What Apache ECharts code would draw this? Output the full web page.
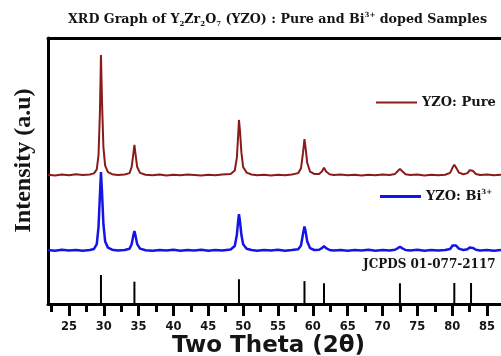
<!DOCTYPE html>
<html>
<head>
<meta charset="utf-8">
<script src="https://cdn.jsdelivr.net/npm/echarts@6/dist/echarts.min.js"></script>
<style>
  html, body { margin: 0; padding: 0; background: #fff; }
  #chart { width: 501px; height: 356px; }
</style>
</head>
<body>
<div id="chart"></div>
<script>
// series names
const seriesNames = ["YZO: Pure", "YZO: Bi3+"];

// 2theta, intensity (a.u., offset for stacking)
const pureData = [
  [22.0, 48.6], [23.0, 48.3], [24.0, 48.7], [25.0, 48.4], [26.0, 48.8], [27.0, 48.5], [28.0, 48.7],
  [28.6, 49.1], [29.0, 50.6], [29.25, 56], [29.45, 72], [29.6, 93.6], [29.75, 76], [29.95, 59],
  [30.2, 52], [30.6, 49.6], [31.2, 48.8], [32.0, 48.5], [33.0, 48.7], [33.7, 49.2], [34.0, 51.5],
  [34.25, 56.5], [34.4, 59.8], [34.55, 56.5], [34.8, 51.5], [35.2, 49.3], [36.0, 48.6], [37.0, 48.4],
  [38.0, 48.7], [39.0, 48.3], [40.0, 48.6], [41.0, 48.4], [42.0, 48.7], [43.0, 48.5], [44.0, 48.3],
  [45.0, 48.6], [46.0, 48.4], [47.0, 48.7], [48.2, 48.9], [48.8, 50.2], [49.1, 55], [49.3, 64],
  [49.4, 69.2], [49.55, 65], [49.75, 57], [50.0, 51.5], [50.5, 49.4], [51.2, 48.7], [52.0, 48.4],
  [53.0, 48.6], [54.0, 48.3], [55.0, 48.6], [56.0, 48.4], [57.0, 48.7], [57.9, 49.2], [58.3, 51],
  [58.6, 57], [58.8, 62], [58.95, 59], [59.2, 53], [59.6, 49.8], [60.2, 48.9], [60.9, 48.9],
  [61.3, 49.8], [61.6, 51.2], [61.9, 49.8], [62.4, 48.8], [63.0, 48.5], [64.0, 48.7], [65.0, 48.4],
  [66.0, 48.6], [67.0, 48.3], [68.0, 48.6], [69.0, 48.4], [70.0, 48.7], [71.0, 48.5], [71.8, 48.9],
  [72.2, 50], [72.5, 50.8], [72.8, 50], [73.3, 48.8], [74.0, 48.5], [75.0, 48.7], [76.0, 48.3],
  [77.0, 48.6], [78.0, 48.4], [79.0, 48.6], [79.7, 49.3], [80.05, 51.3], [80.3, 52.3], [80.55, 51.3],
  [80.95, 49.4], [81.6, 48.8], [82.2, 49.2], [82.5, 50.3], [82.7, 50.8], [82.95, 50.1], [83.4, 48.9],
  [84.0, 48.5], [85.0, 48.7], [86.0, 48.4], [87.0, 48.6]
];

const biData = [
  [22.0, 20.3], [23.0, 20.0], [24.0, 20.4], [25.0, 20.1], [26.0, 20.3], [27.0, 20.0], [28.0, 20.3],
  [28.6, 20.7], [29.0, 22.5], [29.25, 29], [29.45, 41], [29.6, 49.6], [29.75, 42], [29.95, 30],
  [30.2, 23.5], [30.6, 21.2], [31.2, 20.4], [32.0, 20.1], [33.0, 20.3], [33.7, 20.8], [34.0, 22.5],
  [34.25, 25.8], [34.4, 27.4], [34.55, 25.8], [34.8, 22.5], [35.2, 20.8], [36.0, 20.2], [37.0, 20.0],
  [38.0, 20.3], [39.0, 20.1], [40.0, 20.4], [41.0, 20.0], [42.0, 20.3], [43.0, 20.1], [44.0, 20.4],
  [45.0, 20.0], [46.0, 20.3], [47.0, 20.1], [48.2, 20.5], [48.8, 21.8], [49.1, 26], [49.3, 31.5],
  [49.4, 33.8], [49.55, 31], [49.75, 26], [50.0, 22.5], [50.5, 20.8], [51.2, 20.3], [52.0, 20.0],
  [53.0, 20.3], [54.0, 20.1], [55.0, 20.4], [56.0, 20.0], [57.0, 20.3], [57.9, 20.6], [58.3, 22],
  [58.6, 26.5], [58.8, 29.1], [58.95, 27.5], [59.2, 23.5], [59.6, 21], [60.2, 20.3], [60.9, 20.4],
  [61.3, 21], [61.6, 21.8], [61.9, 21], [62.4, 20.3], [63.0, 20.1], [64.0, 20.3], [65.0, 20.0],
  [66.0, 20.3], [67.0, 20.1], [68.0, 20.4], [69.0, 20.0], [70.0, 20.3], [71.0, 20.1], [71.8, 20.4],
  [72.2, 21], [72.5, 21.5], [72.8, 21], [73.3, 20.3], [74.0, 20.1], [75.0, 20.4], [76.0, 20.0],
  [77.0, 20.3], [78.0, 20.1], [79.0, 20.3], [79.7, 20.7], [80.05, 22], [80.3, 22.6], [80.55, 22],
  [80.95, 20.8], [81.6, 20.3], [82.2, 20.6], [82.5, 21.2], [82.7, 21.5], [82.95, 21.1], [83.4, 20.4],
  [84.0, 20.1], [85.0, 20.3], [86.0, 20.0], [87.0, 20.3]
];

// JCPDS 01-077-2117 reference lines
const refTheta = [29.6, 34.4, 49.4, 58.8, 61.6, 72.5, 80.3, 82.7];
const refHeight = [10.9, 8.4, 9.3, 8.6, 7.8, 7.8, 7.9, 7.9];

// x axis ticks
const majorTicks = [25, 30, 35, 40, 45, 50, 55, 60, 65, 70, 75, 80, 85];
const minorTicks = [22.5, 27.5, 32.5, 37.5, 42.5, 47.5, 52.5, 57.5, 62.5, 67.5, 72.5, 77.5, 82.5];

const serif = "DejaVu Serif";
const ink = "#151515";
const X_MIN = 22;
const X_MAX = 87;

const chart = echarts.init(document.getElementById("chart"));
const option = {
  animation: false,
  backgroundColor: "#fff",
  title: [
    {
      text: "{t|XRD Graph of Y}{sub|2}{t|Zr}{sub|2}{t|O}{sub|7}{t| (YZO) : Pure and Bi}{sup|3+}{t| doped Samples}",
      left: 68,
      top: 12,
      padding: 0,
      textStyle: {
        rich: {
          t: { fontFamily: serif, fontWeight: "bold", fontSize: 12.7, color: ink, lineHeight: 16 },
          sub: { fontFamily: serif, fontWeight: "bold", fontSize: 7, color: ink, lineHeight: 8, verticalAlign: "bottom" },
          sup: { fontFamily: serif, fontWeight: "bold", fontSize: 7, color: ink, lineHeight: 8, verticalAlign: "top" },
        },
      },
    },
    {
      text: "JCPDS 01-077-2117",
      left: 363,
      top: 259,
      padding: 0,
      textStyle: { fontFamily: serif, fontWeight: "bold", fontSize: 12, color: ink },
    },
  ],
  legend: [
    {
      data: [seriesNames[0]],
      left: 376,
      top: 96,
      padding: 0,
      icon: "rect",
      itemWidth: 41,
      itemHeight: 2,
      formatter: () => "{t|YZO: Pure}",
      textStyle: {
        rich: { t: { fontFamily: serif, fontWeight: "bold", fontSize: 13, color: ink } },
      },
    },
    {
      data: [seriesNames[1]],
      left: 380,
      top: 189,
      padding: 0,
      icon: "rect",
      itemWidth: 41,
      itemHeight: 3,
      formatter: () => "{t|YZO: Bi}{sup|3+}",
      textStyle: {
        rich: {
          t: { fontFamily: serif, fontWeight: "bold", fontSize: 13, color: ink, lineHeight: 15 },
          sup: { fontFamily: serif, fontWeight: "bold", fontSize: 7, color: ink, lineHeight: 8, verticalAlign: "top" },
        },
      },
    },
  ],
  grid: {
    left: 48,
    top: 38,
    right: 0,
    bottom: 52,
    outerBoundsMode: "none",
  },
  xAxis: [
    {
      type: "value",
      min: X_MIN,
      max: X_MAX,
      position: "bottom",
      name: "Two Theta (2θ)",
      nameLocation: "middle",
      nameGap: 31,
      nameMoveOverlap: false,
      nameTextStyle: {
        fontFamily: "DejaVu Sans",
        fontWeight: "bold",
        fontSize: 23,
        color: ink,
        padding: [0, 12, 0, 0],
      },
      splitLine: { show: false },
      axisLine: { show: true, lineStyle: { color: "#000", width: 3 } },
      axisTick: { show: true, customValues: majorTicks, length: 12, lineStyle: { color: "#000", width: 3 } },
      axisLabel: {
        customValues: majorTicks,
        margin: 17,
        fontFamily: "DejaVu Sans",
        fontWeight: "bold",
        fontSize: 11.5,
        color: ink,
      },
    },
    {
      type: "value",
      min: X_MIN,
      max: X_MAX,
      position: "bottom",
      splitLine: { show: false },
      axisLine: { show: false },
      axisTick: { show: true, customValues: minorTicks, length: 8, lineStyle: { color: "#000", width: 3 } },
      axisLabel: { show: false },
    },
    {
      // top frame line only
      type: "value",
      min: X_MIN,
      max: X_MAX,
      position: "top",
      splitLine: { show: false },
      axisLine: { show: true, lineStyle: { color: "#000", width: 3 } },
      axisTick: { show: false },
      axisLabel: { show: false },
    },
  ],
  yAxis: {
    type: "value",
    min: 0,
    max: 100,
    name: "Intensity (a.u)",
    nameLocation: "middle",
    nameGap: 12,
    nameTextStyle: {
      fontFamily: "Liberation Serif",
      fontWeight: "bold",
      fontSize: 24,
      color: ink,
      padding: [0, 0, 0, 21],
    },
    splitLine: { show: false },
    axisLine: { show: true, lineStyle: { color: "#000", width: 3 } },
    axisTick: { show: false },
    axisLabel: { show: false },
  },
  series: [
    {
      name: seriesNames[0],
      type: "line",
      data: pureData,
      showSymbol: false,
      color: "#8b1a1a",
      lineStyle: { width: 2 },
    },
    {
      name: seriesNames[1],
      type: "line",
      data: biData,
      showSymbol: false,
      color: "#1414e6",
      lineStyle: { width: 2.5 },
    },
    {
      name: "JCPDS 01-077-2117",
      type: "bar",
      data: refTheta.map((t, i) => [t, refHeight[i]]),
      barWidth: 2,
      color: "#000",
    },
  ],
};
chart.setOption(option);
</script>
</body>
</html>
